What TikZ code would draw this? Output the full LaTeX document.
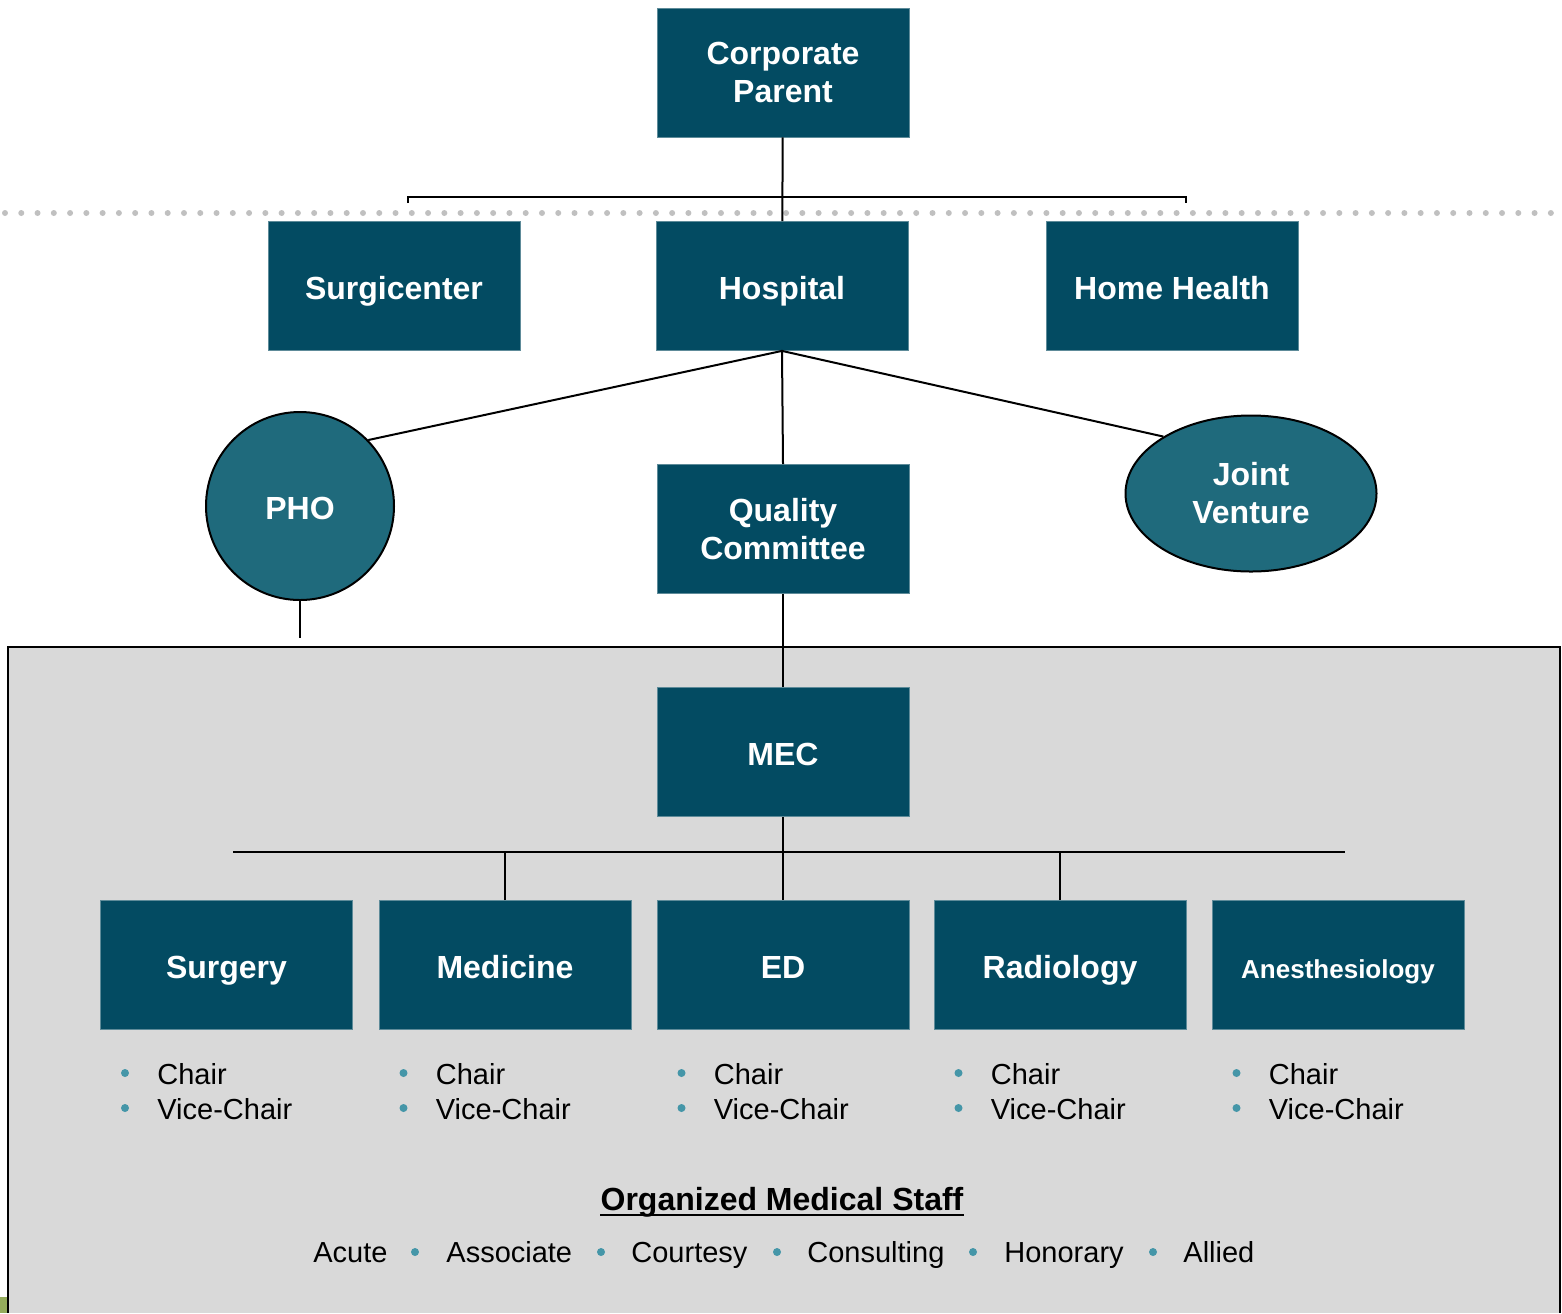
\documentclass[tikz,border=0pt]{standalone}
\usepackage{fontspec}
\setmainfont{Liberation Sans}
\usepackage{tikz}
\usetikzlibrary{shapes.geometric}
\definecolor{boxteal}{HTML}{034B62}
\definecolor{circteal}{HTML}{1F6A7C}
\definecolor{boxedge}{HTML}{5E8B99}
\definecolor{panelgray}{HTML}{D9D9D9}
\definecolor{dotgray}{HTML}{C0C0C0}
\definecolor{bulletblue}{HTML}{4596A8}
\definecolor{edgegreen}{HTML}{95AC5C}
\tikzset{org box/.style={draw=boxedge, line width=0.4pt, fill=boxteal,
           text=white, minimum width=126pt, minimum height=64.5pt,
           align=center, font=\fontsize{16}{19}\selectfont\bfseries},
     one line/.style={align=none, text height=13pt, text depth=0pt},
     affil shape/.style={draw=black, line width=1pt, fill=circteal,
           text=white, align=center,
           font=\fontsize{16}{19}\selectfont\bfseries},
     link/.style={draw=black, line width=1pt},
     staff item/.style={anchor=base west, inner sep=0pt,
           font=\fontsize{14.5}{17}\selectfont},
     staff dot/.style={fill=bulletblue}
     }
\def\Dept#1#2#3{%
 \node[org box, one line] (#1) at (#2,965) {#3};
 \foreach \yb/\yd/\t/\k in {1084/1073/Chair/c,1119/1108/Vice-Chair/v}{
   \fill[staff dot] (#2-101.5,\yd) circle (2pt);
   \node[staff item] (#1\k) at (#2-69.5,\yb) {\t};
 }
}

\begin{document}
\begin{tikzpicture}[x=0.5pt, y=-0.5pt]
\useasboundingbox (0,0) rectangle (1562,1313);
\fill[panelgray] (8,647) rectangle (1560,1313);
\draw[link] (8,1313) -- (8,647) -- (1560,647) -- (1560,1313);
\fill[edgegreen] (0,1297) rectangle (7,1313);
\draw[dotgray, line width=3pt, line cap=round, dash pattern=on 0pt off 8.136pt]
  (5,213) -- (1551,213);

\node[org box] (corp) at (783,72.5) {Corporate\\Parent};
\node[org box, one line] (surgi) at (394,286) {Surgicenter};
\node[org box, one line] (hosp) at (782,286) {Hospital};
\node[org box, one line] (home) at (1172,286) {Home Health};
\node[org box] (qual) at (783,529) {Quality\\Committee};
\node[org box, one line] (mec) at (783,752) {MEC};
\node[affil shape, one line, circle, minimum size=94pt] (pho) at (300,506) {PHO};
\node[affil shape, ellipse, minimum width=125.5pt, minimum height=78pt] (jv)
  at (1251,493.5) {Joint\\Venture};

\Dept{surg}{226.5}{Surgery}
\Dept{med}{505}{Medicine}
\Dept{ed}{783}{ED}
\Dept{rad}{1060}{Radiology}
\Dept{anes}{1338}{\fontsize{13}{16}\selectfont Anesthesiology}

\coordinate (brL) at (408,203);
\coordinate (brR) at (1186,203);
\draw[link] (brL) -- ++(0,-6) -| (brR);
\draw[link] (corp) -- (hosp);
\draw[link] (hosp.south) -- (pho.44);
\draw[link] (hosp.south) -- (jv.147);
\draw[link] (hosp.south) -- (qual.north);
\coordinate (phoend) at (300,638);
\draw[link] (pho.south) -- (phoend);
\draw[link] (qual) -- (mec);
\coordinate (busL) at (233,852);
\coordinate (busR) at (1345,852);
\draw[link] (busL) -- (busR);
\draw[link] (mec) -- (ed);
\draw[link] (med.north) -- (med.north |- busL);
\draw[link] (rad.north) -- (rad.north |- busL);

\node[inner sep=0pt, anchor=base, font=\fontsize{16}{19}\selectfont\bfseries]
  (oms) at (782,1210) {Organized Medical Staff};
\draw[line width=1.2pt] ([yshift=-2.6pt]oms.base west) -- ([yshift=-2.6pt]oms.base east);
\foreach \x/\w/\n in {313/Acute/acute,446/Associate/assoc,631/Courtesy/court,
    807/Consulting/consult,1004/Honorary/honor,1183/Allied/allied}
  \node[staff item] (\n) at (\x,1262) {\w};
\foreach \x in {415,601,777,973,1153}
  \fill[staff dot] (\x,1252) circle (2pt);
\end{tikzpicture}
\end{document}
